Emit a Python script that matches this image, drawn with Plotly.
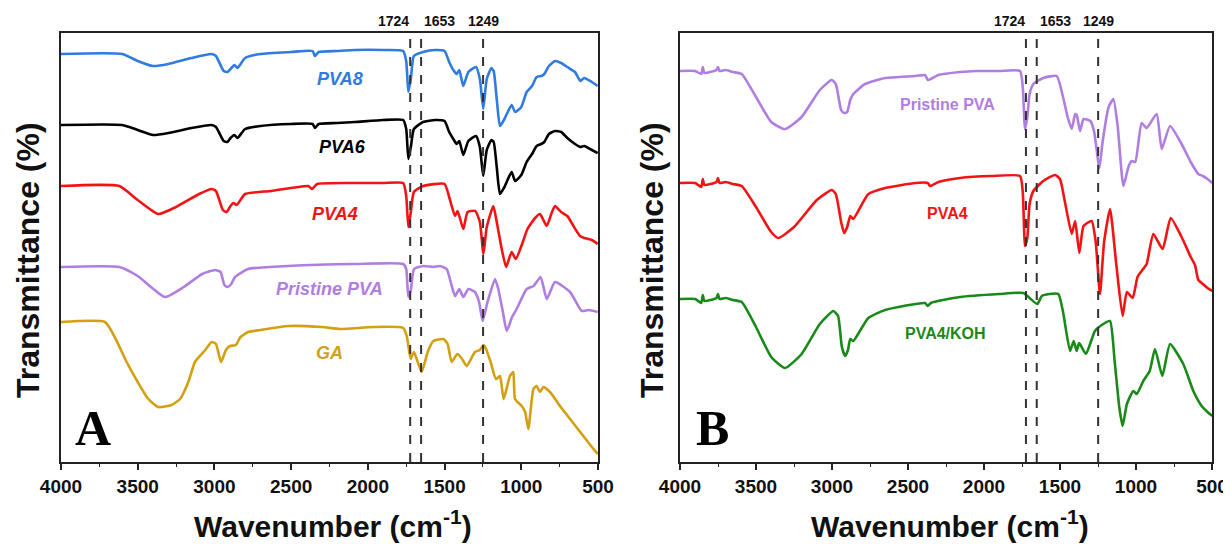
import plotly.graph_objects as go

# ---------------- Panel A data (wavenumber cm-1, transmittance offset a.u.) ----------------
W_PVA8 = [4000,3600,3500,3400,3300,3150,3020,2990,2940,2915,2895,2870,2850,2800,2700,2500,2360,2345,2320,2200,
          2084,1900,1770,1750,1736,1720,1700,1640,1560,1500,1470,1443,1421,1404,1378,1345,1295,1270,1248,1225,
          1195,1180,1160,1139,1110,1063,1040,1000,965,930,900,870,850,820,780,740,700,650,615,590,540,502]
T_PVA8 = [408,408,401,396,398,404,408,406,391,390,393,397,394,404,408,410,411,406,410,411,
          412,412,411,401,370,383,406,410,412,411,400,392,388,392,376,390,395,383,353,383,
          394,391,363,336,343,357,350,355,370,376,385,386,388,396,401,399,395,390,381,384,380,376]

W_PVA6 = W_PVA8
T_PVA6 = [337,337,332,327,329,334,337,335,321,320,324,327,324,333,336,338,338,334,338,339,
          340,342,342,333,303,315,333,340,342,341,330,323,318,321,307,321,326,315,286,312,
          322,320,295,268,275,290,281,287,300,308,316,318,320,328,331,330,324,318,315,316,312,309]

W_PVA4A = [4000,3620,3500,3366,3250,3100,3018,2990,2945,2920,2895,2877,2855,2800,2630,2388,2365,2330,2084,1900,
           1770,1750,1736,1720,1700,1640,1500,1470,1432,1415,1378,1350,1300,1270,1247,1225,1182,1160,1130,1099,
           1063,1036,990,960,910,878,834,800,780,740,700,660,617,590,540,502]
T_PVA4A = [276,276,262,248,255,268,273,271,252,250,256,259,257,268,271,276,273,278,279,279,
           279,266,235,250,270,276,278,265,246,251,233,250,251,240,208,235,256,240,215,195,
           210,203,220,233,244,248,236,250,256,250,246,236,226,224,222,218]

W_PPA = [4000,3620,3500,3322,3200,3080,2996,2960,2935,2915,2890,2866,2780,2520,2084,1769,1750,1736,1720,1699,
         1638,1573,1530,1486,1460,1432,1404,1378,1345,1302,1275,1252,1220,1171,1150,1120,1095,1060,1030,965,
         920,874,834,780,682,606,560,502]
T_PPA = [195,195,186,165,175,188,192,190,177,175,178,185,193,196,198,198,193,165,172,193,
         196,195,196,193,180,166,173,165,173,170,160,141,160,183,173,150,131,145,153,173,
         176,185,163,180,170,151,152,150]

W_GA = [4000,3713,3650,3572,3500,3431,3366,3279,3224,3170,3127,3060,3018,2990,2957,2925,2899,2860,2830,2780,
        2700,2518,2300,2181,1964,1769,1745,1721,1700,1675,1649,1610,1573,1508,1480,1454,1417,1390,1356,1302,
        1270,1247,1232,1200,1165,1139,1115,1074,1052,1041,997,975,954,921,900,878,856,813,748,682,
        596,530,502]
T_GA = [140,140,125,100,80,63,55,57,63,80,100,112,120,118,100,112,116,117,125,130,
        132,136,135,133,135,134,125,103,110,100,90,110,121,123,118,100,108,104,96,110,
        112,117,114,100,83,86,63,86,90,63,56,50,33,73,76,70,75,70,56,43,
        26,13,8]

# ---------------- Panel B data ----------------
W_PPB = [4000,3900,3860,3850,3840,3760,3750,3740,3700,3650,3594,3500,3400,3309,3200,3080,3002,2975,2940,2920,
         2900,2880,2860,2783,2650,2450,2388,2370,2350,2300,2158,2050,1900,1763,1745,1730,1715,1700,1675,1610,
         1522,1480,1450,1423,1400,1390,1368,1345,1300,1275,1241,1220,1180,1149,1120,1083,1050,1029,1005,963,
         930,864,831,776,700,640,590,560,530,498]
T_PPB = [391,391,388,395,389,392,395,391,392,390,388,365,340,333,345,372,382,378,352,349,
         350,362,368,378,384,386,387,382,383,387,390,391,391,391,375,333,345,368,378,384,
         386,365,345,333,348,347,331,343,341,330,294,320,355,363,335,276,295,301,300,339,
         334,348,313,336,318,300,288,286,283,279]

W_PVA4B = [4000,3900,3860,3850,3840,3760,3750,3740,3700,3650,3594,3500,3400,3353,3250,3100,3002,2975,2940,2920,
           2900,2880,2860,2761,2650,2450,2370,2355,2300,2158,1950,1763,1745,1730,1715,1700,1675,1610,1533,1500,
           1470,1423,1400,1373,1345,1292,1265,1237,1210,1171,1130,1088,1060,1022,990,963,930,886,825,772,
           700,640,612,590,560,530,498]
T_PVA4B = [279,279,275,283,277,280,284,279,280,278,276,255,230,224,235,262,272,268,240,229,
           235,246,243,268,274,279,279,276,280,284,286,286,270,216,224,258,271,281,287,283,
           262,228,241,209,236,241,220,168,220,253,198,146,170,164,185,191,198,228,213,244,
           225,205,197,182,178,174,171]

W_KOH = [4000,3900,3860,3850,3840,3760,3750,3740,3700,3650,3594,3500,3400,3309,3200,3080,2991,2960,2935,2914,
         2895,2880,2860,2761,2650,2388,2370,2350,2158,1900,1741,1700,1649,1620,1570,1511,1480,1434,1410,1390,
         1375,1365,1329,1270,1215,1171,1140,1110,1088,1060,1018,995,952,910,875,827,776,689,620,568,
         530,498]
T_KOH = [163,163,159,167,161,164,168,163,164,162,160,135,105,94,108,138,151,146,115,106,
         112,123,121,144,152,159,156,159,165,168,169,164,158,166,168,168,150,111,121,111,
         119,117,108,131,138,141,100,55,36,58,71,68,81,91,113,86,118,98,70,56,
         50,46]

PEAKS = [1724, 1653, 1249]
PEAK_LABELS = ["1724", "1653", "1249"]
XTICKS = [4000, 3500, 3000, 2500, 2000, 1500, 1000, 500]

# label positions (wavenumber, value)
LABELS_A = [("PVA8", 2181, 383), ("PVA6", 2168, 315), ("PVA4", 2214, 248),
            ("Pristine PVA", 2247, 173), ("GA", 2247, 109)]
LABELS_B = [("Pristine PVA", 2237, 358), ("PVA4", 2237, 249), ("PVA4/KOH", 2250, 129)]

C_BLUE = "#2f7be0"
C_BLACK = "#000000"
C_RED = "#f21414"
C_PURPLE = "#b07ee0"
C_GOLD = "#d2a010"
C_GREEN = "#198a19"

FONT = "Liberation Sans, Arial, sans-serif"

fig = go.Figure()

def add(w, t, color, xa, ya):
    fig.add_trace(go.Scatter(x=w, y=t, mode="lines", xaxis=xa, yaxis=ya,
                             line=dict(color=color, width=2.6, shape="spline", smoothing=0.5),
                             showlegend=False, hoverinfo="skip"))

add(W_PVA8, T_PVA8, C_BLUE, "x", "y")
add(W_PVA6, T_PVA6, C_BLACK, "x", "y")
add(W_PVA4A, T_PVA4A, C_RED, "x", "y")
add(W_PPA, T_PPA, C_PURPLE, "x", "y")
add(W_GA, T_GA, C_GOLD, "x", "y")

add(W_PPB, T_PPB, C_PURPLE, "x2", "y2")
add(W_PVA4B, T_PVA4B, C_RED, "x2", "y2")
add(W_KOH, T_KOH, C_GREEN, "x2", "y2")

# the page body adds an 8px offset; the figure is sized to fit the window
OFF = 8
PAGE_W, PAGE_H = 1231, 544
W = PAGE_W - OFF
H = PAGE_H - OFF

def fx(p):
    return (p - OFF) / W

def fy(p):
    return (PAGE_H - p) / H

A_L, A_R = 61, 598
B_L, B_R = 680, 1212
TOP, BOT = 33, 462

xcommon = dict(range=[4000, 500], tickvals=XTICKS, ticks="outside", ticklen=6, tickwidth=1.5,
               tickcolor="#222", showline=True, linecolor="#222", linewidth=1.5, mirror=True,
               showgrid=False, zeroline=False, automargin=False,
               tickfont=dict(family=FONT, size=19, color="#111", weight="bold"),
               minor=dict(dtick=250, ticks="outside", ticklen=3, tickwidth=1.2, tickcolor="#222", showgrid=False))
ycommon = dict(showticklabels=False, ticks="", showline=True, linecolor="#222", linewidth=1.5,
               mirror=True, showgrid=False, zeroline=False, fixedrange=True, automargin=False)

fig.update_layout(
    width=W, height=H, margin=dict(l=0, r=0, t=0, b=0, pad=0, autoexpand=False),
    paper_bgcolor="white", plot_bgcolor="white",
    xaxis=dict(domain=[fx(A_L), fx(A_R)], anchor="y", **xcommon),
    yaxis=dict(domain=[fy(BOT), fy(TOP)], anchor="x", range=[0, BOT - TOP], **ycommon),
    xaxis2=dict(domain=[fx(B_L), fx(B_R)], anchor="y2", **xcommon),
    yaxis2=dict(domain=[fy(BOT), fy(TOP)], anchor="x2", range=[0, BOT - TOP], **ycommon),
)

shapes = []
annotations = []
for xa, ya in (("x", "y"), ("x2", "y2")):
    for p in PEAKS:
        shapes.append(dict(type="line", xref=xa, yref=ya + " domain", x0=p, x1=p, y0=0, y1=1,
                           line=dict(color="#333", width=2, dash="dash")))
    anchors = ["right", "left", "center"]
    offs = [-8, -6, 0]
    for p, lab, an, o in zip(PEAKS, PEAK_LABELS, anchors, offs):
        annotations.append(dict(text=lab, x=p + o, xref=xa, y=fy(21), yref="paper",
                                xanchor=an, yanchor="middle", showarrow=False,
                                font=dict(family=FONT, size=14, color="#111", weight="bold")))

colors_A = [C_BLUE, C_BLACK, C_RED, C_PURPLE, C_GOLD]
for (lab, x, y), c in zip(LABELS_A, colors_A):
    annotations.append(dict(text="<i>" + lab + "</i>", x=x, y=y, xref="x", yref="y", showarrow=False,
                            font=dict(family=FONT, size=18, color=c, weight="bold")))
colors_B = [C_PURPLE, C_RED, C_GREEN]
for (lab, x, y), c in zip(LABELS_B, colors_B):
    annotations.append(dict(text=lab, x=x, y=y, xref="x2", yref="y2", showarrow=False,
                            font=dict(family=FONT, size=16, color=c, weight="bold")))

# panel letters
for letter, xp in (("A", 93), ("B", 712)):
    annotations.append(dict(text=letter, x=fx(xp), y=fy(428), xref="paper", yref="paper",
                            showarrow=False, xanchor="center", yanchor="middle",
                            font=dict(family="Liberation Serif, Times New Roman, serif", size=50,
                                      color="#000", weight="bold")))

# axis titles
for xc in (333, 950):
    annotations.append(dict(text="Wavenumber (cm<sup>-1</sup>)", x=fx(xc), y=fy(524),
                            xref="paper", yref="paper", showarrow=False, xanchor="center", yanchor="middle",
                            font=dict(family=FONT, size=30, color="#111", weight="bold")))
for xc in (28, 652):
    annotations.append(dict(text="Transmittance (%)", x=fx(xc), y=fy(260), textangle=-90,
                            xref="paper", yref="paper", showarrow=False, xanchor="center", yanchor="middle",
                            font=dict(family=FONT, size=32, color="#111", weight="bold")))

fig.update_layout(shapes=shapes, annotations=annotations)
fig.write_html("out.html")
